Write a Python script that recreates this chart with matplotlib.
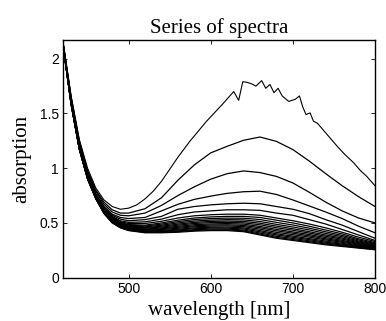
import matplotlib
matplotlib.use("Agg")
import matplotlib.pyplot as plt

# wavelength grid shared by most spectra [nm]
wavelength = [420, 430, 440, 450, 460, 470, 480, 490, 500, 520, 540, 560,
              580, 600, 620, 640, 660, 680, 700, 720, 740, 760, 780, 800]

# top spectrum is noisy, so it is read on a finer grid
wavelength_top = [420, 430, 440, 450, 460, 470, 480, 490, 500, 510, 520, 530, 540, 550, 560,
                  575, 585, 595, 605, 615, 622, 628, 634, 639, 644, 650, 655,
                  662, 667, 672, 677, 682, 687, 695, 703, 708, 712, 716, 721,
                  725, 730, 738, 746, 754, 764, 774, 782, 790, 800]
spectrum_01 = [2.16, 1.66, 1.26, 1.00, 0.82, 0.71, 0.65, 0.625, 0.635, 0.665, 0.72, 0.79, 0.88, 0.99, 1.10,
               1.25, 1.34, 1.43, 1.51, 1.59, 1.65, 1.70, 1.62, 1.79, 1.785, 1.77, 1.75,
               1.80, 1.73, 1.765, 1.69, 1.73, 1.66, 1.61, 1.63, 1.66, 1.56, 1.49, 1.505,
               1.43, 1.41, 1.34, 1.27, 1.20, 1.12, 1.05, 0.98, 0.925, 0.84]

spectrum_02 = [2.16, 1.65, 1.25, 0.98, 0.80, 0.69, 0.62, 0.59, 0.59, 0.63, 0.73, 0.89,
               1.03, 1.14, 1.20, 1.255, 1.285, 1.245, 1.17, 1.065, 0.95, 0.84, 0.74, 0.65]
spectrum_03 = [2.15, 1.64, 1.24, 0.97, 0.79, 0.67, 0.60, 0.57, 0.565, 0.59, 0.66, 0.75,
               0.83, 0.90, 0.95, 0.975, 0.96, 0.925, 0.865, 0.78, 0.69, 0.61, 0.545, 0.50]
spectrum_04 = [2.15, 1.63, 1.22, 0.95, 0.77, 0.65, 0.58, 0.55, 0.54, 0.55, 0.61, 0.67,
               0.715, 0.745, 0.77, 0.785, 0.79, 0.76, 0.71, 0.655, 0.60, 0.54, 0.47, 0.41]
spectrum_05 = [2.14, 1.62, 1.21, 0.94, 0.76, 0.64, 0.57, 0.535, 0.52, 0.53, 0.56, 0.625,
               0.65, 0.665, 0.675, 0.68, 0.675, 0.65, 0.625, 0.585, 0.53, 0.48, 0.42, 0.36]
spectrum_06 = [2.14, 1.62, 1.21, 0.94, 0.76, 0.635, 0.56, 0.52, 0.505, 0.51, 0.535, 0.575,
               0.60, 0.61, 0.62, 0.62, 0.615, 0.59, 0.57, 0.53, 0.49, 0.44, 0.39, 0.34]
spectrum_07 = [2.14, 1.61, 1.20, 0.93, 0.75, 0.63, 0.555, 0.51, 0.495, 0.495, 0.515, 0.545,
               0.565, 0.575, 0.58, 0.58, 0.57, 0.545, 0.52, 0.49, 0.455, 0.415, 0.37, 0.33]
spectrum_08 = [2.14, 1.61, 1.20, 0.93, 0.75, 0.625, 0.55, 0.505, 0.485, 0.48, 0.50, 0.525,
               0.545, 0.555, 0.56, 0.56, 0.55, 0.525, 0.50, 0.47, 0.435, 0.40, 0.355, 0.32]
spectrum_09 = [2.14, 1.606, 1.196, 0.926, 0.746, 0.62, 0.544, 0.499, 0.478, 0.472, 0.489, 0.512,
               0.531, 0.54, 0.544, 0.543, 0.531, 0.505, 0.481, 0.452, 0.419, 0.386, 0.345, 0.312]
spectrum_10 = [2.138, 1.603, 1.193, 0.923, 0.743, 0.616, 0.539, 0.494, 0.472, 0.464, 0.479, 0.50,
               0.517, 0.526, 0.53, 0.528, 0.513, 0.487, 0.463, 0.436, 0.404, 0.374, 0.335, 0.305]
spectrum_11 = [2.137, 1.60, 1.19, 0.92, 0.74, 0.612, 0.534, 0.489, 0.467, 0.457, 0.47, 0.489,
               0.505, 0.514, 0.517, 0.514, 0.497, 0.471, 0.447, 0.42, 0.39, 0.362, 0.327, 0.299]
spectrum_12 = [2.136, 1.597, 1.187, 0.917, 0.737, 0.608, 0.529, 0.484, 0.462, 0.451, 0.462, 0.479,
               0.495, 0.503, 0.505, 0.501, 0.483, 0.456, 0.433, 0.407, 0.378, 0.352, 0.319, 0.293]
spectrum_13 = [2.135, 1.595, 1.185, 0.915, 0.735, 0.605, 0.525, 0.48, 0.457, 0.444, 0.454, 0.469,
               0.484, 0.491, 0.494, 0.489, 0.468, 0.441, 0.418, 0.394, 0.366, 0.341, 0.312, 0.287]
spectrum_14 = [2.134, 1.592, 1.182, 0.912, 0.732, 0.601, 0.52, 0.475, 0.453, 0.439, 0.447, 0.46,
               0.474, 0.481, 0.483, 0.477, 0.456, 0.428, 0.406, 0.382, 0.355, 0.332, 0.305, 0.282]
spectrum_15 = [2.133, 1.59, 1.18, 0.91, 0.73, 0.598, 0.517, 0.472, 0.448, 0.433, 0.44, 0.451,
               0.465, 0.471, 0.473, 0.466, 0.443, 0.414, 0.393, 0.37, 0.345, 0.323, 0.298, 0.276]
spectrum_16 = [2.132, 1.587, 1.177, 0.907, 0.727, 0.595, 0.512, 0.467, 0.444, 0.427, 0.432, 0.442,
               0.455, 0.461, 0.462, 0.455, 0.43, 0.401, 0.38, 0.357, 0.334, 0.314, 0.291, 0.271]
spectrum_17 = [2.132, 1.585, 1.175, 0.905, 0.725, 0.592, 0.509, 0.464, 0.44, 0.423, 0.426, 0.435,
               0.447, 0.453, 0.453, 0.445, 0.419, 0.39, 0.369, 0.347, 0.324, 0.306, 0.285, 0.267]
spectrum_18 = [2.131, 1.583, 1.173, 0.903, 0.723, 0.589, 0.506, 0.461, 0.436, 0.418, 0.42, 0.427,
               0.438, 0.444, 0.444, 0.435, 0.408, 0.378, 0.358, 0.337, 0.315, 0.298, 0.279, 0.262]
spectrum_19 = [2.13, 1.582, 1.172, 0.902, 0.722, 0.587, 0.503, 0.458, 0.433, 0.414, 0.415, 0.421,
               0.431, 0.436, 0.437, 0.427, 0.398, 0.368, 0.348, 0.328, 0.307, 0.291, 0.274, 0.258]
spectrum_20 = [2.13, 1.58, 1.17, 0.90, 0.72, 0.585, 0.50, 0.455, 0.43, 0.41, 0.41, 0.415,
               0.425, 0.43, 0.43, 0.42, 0.39, 0.36, 0.34, 0.32, 0.30, 0.285, 0.27, 0.255]

x_ticks = [500, 600, 700, 800]
y_ticks = [0, 0.5, 1, 1.5, 2]
y_tick_labels = ["0", "0.5", "1", "1.5", "2"]


def main():
    fig = plt.figure(figsize=(3.86, 3.21), dpi=100)
    ax = fig.add_axes([0.163, 0.135, 0.8085, 0.74])

    ax.plot(wavelength_top, spectrum_01, color="black", lw=0.8)
    others = [spectrum_02, spectrum_03, spectrum_04, spectrum_05, spectrum_06,
              spectrum_07, spectrum_08, spectrum_09, spectrum_10, spectrum_11,
              spectrum_12, spectrum_13, spectrum_14, spectrum_15, spectrum_16,
              spectrum_17, spectrum_18, spectrum_19, spectrum_20]
    for s in others:
        ax.plot(wavelength, s, color="black", lw=0.9)

    ax.set_xlim(420, 800)
    ax.set_ylim(0, 2.17)
    ax.set_xticks(x_ticks)
    ax.set_yticks(y_ticks)
    ax.set_yticklabels(y_tick_labels)
    ax.tick_params(direction="in", length=3, width=0.6, top=True, right=True,
                   labelsize=10, pad=3)
    for lab in ax.get_xticklabels() + ax.get_yticklabels():
        lab.set_fontfamily("Liberation Sans")
    for sp in ax.spines.values():
        sp.set_linewidth(1.0)

    serif = {"family": "Liberation Serif", "size": 15}
    ax.set_title("Series of spectra", fontdict=serif, pad=5)
    ax.set_xlabel("wavelength [nm]", fontdict=serif, labelpad=3.5)
    ax.set_ylabel("absorption", fontdict=serif, labelpad=6)

    fig.savefig("out.png", dpi=100)


if __name__ == '__main__':
    main()
